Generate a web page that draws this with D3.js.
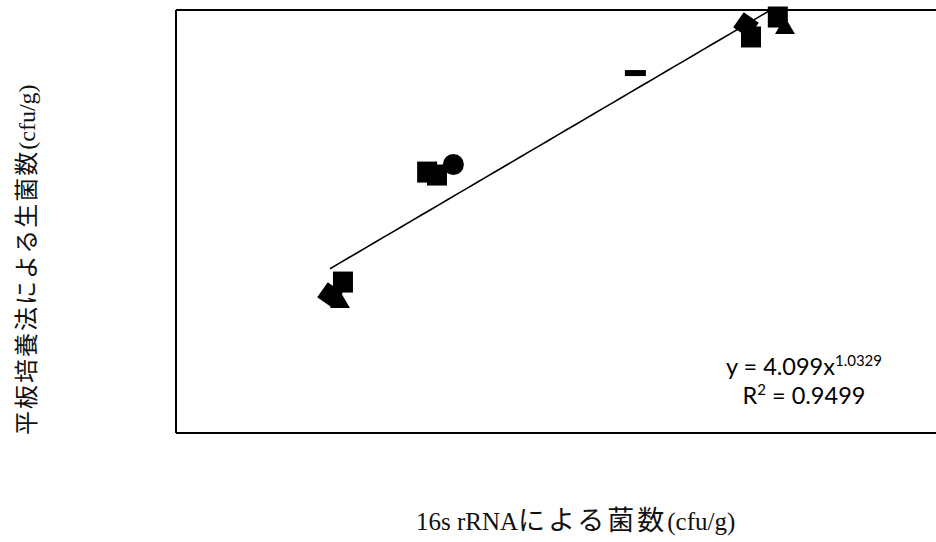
<!DOCTYPE html>
<html>
<head>
<meta charset="utf-8">
<script src="https://cdn.jsdelivr.net/npm/d3@7"></script>
<style>
  html, body { margin: 0; padding: 0; background: #fff; }
  svg { display: block; }
</style>
</head>
<body>
<script>
// ---- data ----
const diamondX = [6.73e5, 1.16e8];
const diamondY = [2.42e6, 8.65e8];
const squareX  = [7.9e5, 2.24e6, 2.53e6, 1.234e8, 1.72e8];
const squareY  = [3.21e6, 3.52e7, 3.30e7, 6.67e8, 1.03e9];
const triangleX = [7.61e5, 1.88e8];
const triangleY = [2.17e6, 8.47e8];
const circleX = [3.10e6];
const circleY = [4.15e7];
const dashX = [2.95e7];
const dashY = [3.04e8];
const fitA = 4.099, fitB = 1.0329, fitR2 = 0.9499;
const xTitleParts = ["16s rRNA", "による菌数", "(cfu/g)"];
const yTitleParts = ["平板培養法による生菌数", "(cfu/g)"];

const W = 936, H = 542;
const plot = { left: 176, top: 10, bottom: 433 };
const pxPerDecadeX = 186;

const svg = d3.select("body").append("svg").attr("width", W).attr("height", H);

const x = d3.scaleLog().domain([1e5, 1e10]).range([plot.left, plot.left + 5 * pxPerDecadeX]);
const y = d3.scaleLog().domain([1.2e5, 1.2e9]).range([plot.bottom, plot.top]);

svg.append("defs").append("clipPath").attr("id", "clip")
  .append("rect").attr("x", plot.left).attr("y", plot.top)
  .attr("width", W - plot.left).attr("height", plot.bottom - plot.top);

// trendline
const allX = [...diamondX, ...squareX, ...triangleX, ...circleX, ...dashX];
const [xmin, xmax] = d3.extent(allX);
const trendPts = d3.range(0, 51).map(i => {
  const lx = Math.log10(xmin) + (Math.log10(xmax) - Math.log10(xmin)) * i / 50;
  const xv = Math.pow(10, lx);
  return [xv, fitA * Math.pow(xv, fitB)];
});
svg.append("path")
  .attr("clip-path", "url(#clip)")
  .attr("d", d3.line().x(d => x(d[0])).y(d => y(d[1]))(trendPts))
  .attr("fill", "none").attr("stroke", "#000").attr("stroke-width", 1.6);

// frame (left, top, bottom; right edge off-page)
const frame = svg.append("g").attr("stroke", "#000").attr("stroke-width", 2).attr("fill", "none");
frame.append("line").attr("x1", plot.left).attr("x2", W).attr("y1", plot.top).attr("y2", plot.top);
frame.append("line").attr("x1", plot.left).attr("x2", W).attr("y1", plot.bottom).attr("y2", plot.bottom);
frame.append("line").attr("x1", plot.left).attr("x2", plot.left).attr("y1", plot.top).attr("y2", plot.bottom);

const marks = svg.append("g").attr("fill", "#000");

// diamonds
marks.selectAll(".dia").data(d3.zip(diamondX, diamondY)).join("path")
  .attr("d", "M0,-13L13,0L0,13L-13,0Z")
  .attr("transform", d => `translate(${x(d[0])},${y(d[1])}) rotate(-10)`);
// squares
marks.selectAll(".sq").data(d3.zip(squareX, squareY)).join("rect")
  .attr("x", d => x(d[0]) - 10).attr("y", d => y(d[1]) - 10.5)
  .attr("width", 20).attr("height", 21);
// triangles
marks.selectAll(".tri").data(d3.zip(triangleX, triangleY)).join("path")
  .attr("d", "M0,-9L10,8L-10,8Z")
  .attr("transform", d => `translate(${x(d[0])},${y(d[1])})`);
// circles
marks.selectAll(".cir").data(d3.zip(circleX, circleY)).join("circle")
  .attr("cx", d => x(d[0])).attr("cy", d => y(d[1])).attr("r", 10.5);
// dash
marks.selectAll(".dash").data(d3.zip(dashX, dashY)).join("rect")
  .attr("x", d => x(d[0]) - 10.5).attr("y", d => y(d[1]) - 3)
  .attr("width", 21).attr("height", 6);

// equation label
const eqFont = "Lato, 'Open Sans', sans-serif";
const eq = svg.append("text")
  .attr("x", 804).attr("y", 375).attr("text-anchor", "middle")
  .attr("font-family", eqFont).attr("font-size", 23.5).attr("fill", "#000");
eq.append("tspan").text(`y = ${fitA}x`);
eq.append("tspan").attr("dy", -9).attr("font-size", 15).text(fitB);
const r2 = svg.append("text")
  .attr("x", 804).attr("y", 404).attr("text-anchor", "middle")
  .attr("font-family", eqFont).attr("font-size", 23.5).attr("fill", "#000");
r2.append("tspan").text("R");
r2.append("tspan").attr("dy", -9).attr("font-size", 15).text("2");
r2.append("tspan").attr("dy", 9).text(` = ${fitR2}`);

// axis titles
const latinFont = "'Liberation Serif', 'DejaVu Serif', serif";
const cjkFont = "'Noto Sans CJK JP', 'Noto Sans CJK SC', sans-serif";
const xt = svg.append("text")
  .attr("x", 416).attr("y", 530).attr("text-anchor", "start").attr("fill", "#111");
xt.append("tspan").attr("font-family", latinFont).attr("font-size", 25).text(xTitleParts[0]);
xt.append("tspan").attr("font-family", cjkFont).attr("font-size", 27).attr("letter-spacing", 3).text(xTitleParts[1]);
xt.append("tspan").attr("font-family", latinFont).attr("font-size", 25).text(xTitleParts[2]);

const yt = svg.append("text")
  .attr("transform", "translate(35,435) rotate(-90)").attr("text-anchor", "start").attr("fill", "#111");
yt.append("tspan").attr("font-family", cjkFont).attr("font-size", 24).attr("letter-spacing", 2).text(yTitleParts[0]);
yt.append("tspan").attr("font-family", latinFont).attr("font-size", 24).text(yTitleParts[1]);
</script>
</body>
</html>
